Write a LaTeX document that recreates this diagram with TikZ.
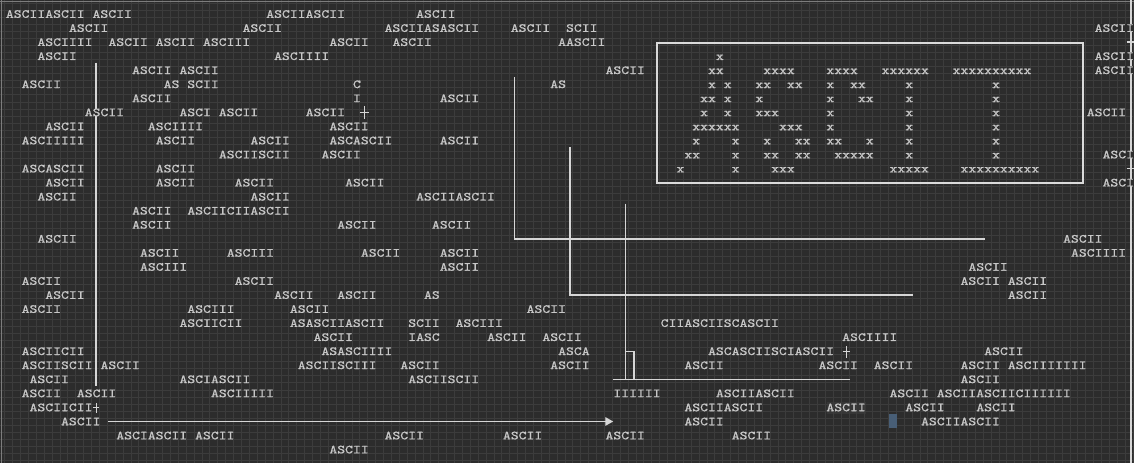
\documentclass[tikz,border=0pt]{standalone}
\usepackage{fontspec}
\newfontfamily\asciifont{lmmono10-regular.otf}[FakeStretch=1.22, FakeBold=0.9]
\usetikzlibrary{arrows.meta}

\definecolor{bg}{RGB}{44,44,44}
\definecolor{gridc}{RGB}{60,60,60}
\definecolor{ink}{RGB}{200,200,200}
\definecolor{wirec}{RGB}{214,214,214}
\definecolor{framec}{RGB}{125,125,125}
\definecolor{cursorc}{RGB}{72,94,118}
\definecolor{hilite}{RGB}{54,54,54}

\tikzset{
  txt/.style={anchor=west, inner sep=0pt, text height=4.3pt, text depth=0pt,
    text=ink, font=\asciifont\fontsize{7}{7}\selectfont},
  masked/.style={txt, fill=bg},
  wire/.style={draw=wirec, line width=0.8pt},
}

\begin{document}
\begin{tikzpicture}[x=0.1578cm, y=-0.281cm]
  \useasboundingbox (-0.697,0) rectangle (143.03,32.95);
  \fill[bg] (-0.697,0) rectangle (143.03,32.95);
  \fill[hilite] (104.08,28.6) rectangle (109.06,29.47);

  % Grid
  \foreach \k in {0,...,143}
    \draw[gridc, line width=0.4pt] (\k-0.1,0) -- (\k-0.1,32.95);
  \foreach \k in {0,...,65}
    \draw[gridc, line width=0.4pt] (-0.697,\k*0.5+0.25) -- (143.03,\k*0.5+0.25);
  \draw[framec, line width=1pt] (-0.697,0.107) -- (143.03,0.107);
  \draw[framec, line width=1pt] (-0.507,0) -- (-0.507,32.95);

  % Cursor
  \fill[cursorc] (112.01,29.47) rectangle (113.03,30.46);

  % Lines
  \coordinate (L1) at (11.47,4.45);
  \coordinate (L2) at (11.47,27.5);
  \draw[wire] (L1) -- (L2);
  \coordinate (M1) at (64.49,5.5);
  \coordinate (M2) at (64.49,17);
  \coordinate (M3) at (124.14,17);
  \draw[wire] (M1) -- (M2) -- (M3);
  \coordinate (N1) at (71.54,10.45);
  \coordinate (N2) at (71.54,21);
  \coordinate (N3) at (115.06,21);
  \draw[wire] (N1) -- (N2) -- (N3);
  \coordinate (P1) at (78.56,14.5);
  \coordinate (P2) at (78.56,27);
  \coordinate (P3) at (77.03,27);
  \coordinate (P4) at (107.03,27);
  \coordinate (P5) at (78.56,25);
  \coordinate (P6) at (79.66,25);
  \coordinate (P7) at (79.66,27);
  \draw[wire] (P1) -- (P2);
  \draw[wire] (P3) -- (P4);
  \draw[wire] (P5) -- (P6) -- (P7);
  \coordinate (R1) at (142.64,0);
  \coordinate (R2) at (142.64,32.95);
  \draw[wire] (R1) -- (R2);
  \draw[wire, line width=1pt, draw=wirec!90] (82.53,3.08) rectangle (136.6,13.0);

  % Junctions
  \draw[wire] (44.93,8) -- (46.1,8) (45.5,7.54) -- (45.5,8.47);
  \draw[wire] (106.1,25) -- (107.03,25) (106.6,24.63) -- (106.6,25.48);
  \draw[wire] (11.13,29) -- (11.9,29) (11.53,28.68) -- (11.53,29.4);
  \draw[wire] (142.1,3) -- (143.1,3) (142.64,2.6) -- (142.64,3.45);
  \draw[wire] (142.1,12) -- (143.1,12) (142.64,11.6) -- (142.64,12.45);

  % Text
  \node[txt] (r1a) at (0,1) {ASCIIASCII ASCII};
  \node[txt] (r1b) at (33,1) {ASCIIASCII};
  \node[txt] (r1c) at (52,1) {ASCII};
  \node[txt] (r2a) at (8,2) {ASCII};
  \node[txt] (r2b) at (30,2) {ASCII};
  \node[txt] (r2c) at (48,2) {ASCIIASASCII};
  \node[txt] (r2d) at (64,2) {ASCII};
  \node[txt] (r2e) at (71,2) {SCII};
  \node[masked] (r2f) at (138,2) {ASCII};
  \node[txt] (r3a) at (4,3) {ASCIIII};
  \node[txt] (r3b) at (13,3) {ASCII ASCII ASCIII};
  \node[txt] (r3c) at (41,3) {ASCII};
  \node[txt] (r3d) at (49,3) {ASCII};
  \node[txt] (r3e) at (70,3) {AASCII};
  \node[txt] (r4a) at (4,4) {ASCII};
  \node[txt] (r4b) at (34,4) {ASCIIII};
  \node[masked] (r4c) at (138,4) {ASCII};
  \node[txt] (r5a) at (16,5) {ASCII ASCII};
  \node[txt] (r5b) at (76,5) {ASCII};
  \node[masked] (r5c) at (138,5) {ASCII};
  \node[txt] (r6a) at (2,6) {ASCII};
  \node[txt] (r6b) at (20,6) {AS SCII};
  \node[txt] (r6c) at (44,6) {C};
  \node[txt] (r6d) at (69,6) {AS};
  \node[txt] (r7a) at (16,7) {ASCII};
  \node[txt] (r7b) at (44,7) {I};
  \node[txt] (r7c) at (55,7) {ASCII};
  \node[masked] (r8a) at (10,8) {ASCII};
  \node[txt] (r8b) at (22,8) {ASCI ASCII};
  \node[txt] (r8c) at (38,8) {ASCII};
  \node[txt] (r8d) at (137,8) {ASCII};
  \node[txt] (r9a) at (5,9) {ASCII};
  \node[txt] (r9b) at (18,9) {ASCIIII};
  \node[txt] (r9c) at (41,9) {ASCII};
  \node[txt] (r10a) at (2,10) {ASCIIIII};
  \node[txt] (r10b) at (19,10) {ASCII};
  \node[txt] (r10c) at (31,10) {ASCII};
  \node[txt] (r10d) at (41,10) {ASCASCII};
  \node[txt] (r10e) at (55,10) {ASCII};
  \node[txt] (r11a) at (27,11) {ASCIISCII};
  \node[txt] (r11b) at (40,11) {ASCII};
  \node[masked] (r11c) at (139,11) {ASCI};
  \node[txt] (r12a) at (2,12) {ASCASCII};
  \node[txt] (r12b) at (19,12) {ASCII};
  \node[txt] (r13a) at (5,13) {ASCII};
  \node[txt] (r13b) at (19,13) {ASCII};
  \node[txt] (r13c) at (29,13) {ASCII};
  \node[txt] (r13d) at (43,13) {ASCII};
  \node[masked] (r13e) at (139,13) {ASCI};
  \node[txt] (r14a) at (4,14) {ASCII};
  \node[txt] (r14b) at (31,14) {ASCII};
  \node[txt] (r14c) at (52,14) {ASCIIASCII};
  \node[txt] (r15a) at (16,15) {ASCII};
  \node[txt] (r15b) at (23,15) {ASCIICIIASCII};
  \node[txt] (r16a) at (16,16) {ASCII};
  \node[txt] (r16b) at (42,16) {ASCII};
  \node[txt] (r16c) at (54,16) {ASCII};
  \node[txt] (r17a) at (4,17) {ASCII};
  \node[txt] (r17b) at (134,17) {ASCII};
  \node[txt] (r18a) at (17,18) {ASCII};
  \node[txt] (r18b) at (28,18) {ASCIII};
  \node[txt] (r18c) at (45,18) {ASCII};
  \node[txt] (r18d) at (55,18) {ASCII};
  \node[txt] (r18e) at (135,18) {ASCIIII};
  \node[txt] (r19a) at (17,19) {ASCIII};
  \node[txt] (r19b) at (55,19) {ASCII};
  \node[txt] (r19c) at (122,19) {ASCII};
  \node[txt] (r20a) at (2,20) {ASCII};
  \node[txt] (r20b) at (29,20) {ASCII};
  \node[txt] (r20c) at (121,20) {ASCII ASCII};
  \node[txt] (r21a) at (5,21) {ASCII};
  \node[txt] (r21b) at (34,21) {ASCII};
  \node[txt] (r21c) at (42,21) {ASCII};
  \node[txt] (r21d) at (53,21) {AS};
  \node[txt] (r21e) at (127,21) {ASCII};
  \node[txt] (r22a) at (2,22) {ASCII};
  \node[txt] (r22b) at (23,22) {ASCIII};
  \node[txt] (r22c) at (36,22) {ASCII};
  \node[txt] (r22d) at (66,22) {ASCII};
  \node[txt] (r23a) at (22,23) {ASCIICII};
  \node[txt] (r23b) at (36,23) {ASASCIIASCII};
  \node[txt] (r23c) at (51,23) {SCII};
  \node[txt] (r23d) at (57,23) {ASCIII};
  \node[txt] (r23e) at (83,23) {CIIASCIISCASCII};
  \node[txt] (r24a) at (39,24) {ASCII};
  \node[txt] (r24b) at (51,24) {IASC};
  \node[txt] (r24c) at (61,24) {ASCII};
  \node[txt] (r24d) at (68,24) {ASCII};
  \node[txt] (r24e) at (106,24) {ASCIIII};
  \node[txt] (r25a) at (2,25) {ASCIICII};
  \node[txt] (r25b) at (40,25) {ASASCIIII};
  \node[txt] (r25c) at (70,25) {ASCA};
  \node[txt] (r25d) at (89,25) {ASCASCIISCIASCII};
  \node[txt] (r25e) at (124,25) {ASCII};
  \node[txt] (r26a) at (2,26) {ASCIISCII};
  \node[txt] (r26b) at (12,26) {ASCII};
  \node[txt] (r26c) at (37,26) {ASCIISCIII};
  \node[txt] (r26d) at (50,26) {ASCII};
  \node[txt] (r26e) at (69,26) {ASCII};
  \node[txt] (r26f) at (86,26) {ASCII};
  \node[txt] (r26g) at (103,26) {ASCII};
  \node[txt] (r26h) at (110,26) {ASCII};
  \node[txt] (r26i) at (121,26) {ASCII ASCIIIIIII};
  \node[txt] (r27a) at (3,27) {ASCII};
  \node[txt] (r27b) at (22,27) {ASCIASCII};
  \node[txt] (r27c) at (51,27) {ASCIISCII};
  \node[txt] (r27d) at (121,27) {ASCII};
  \node[txt] (r28a) at (2,28) {ASCII};
  \node[txt] (r28b) at (9,28) {ASCII};
  \node[txt] (r28c) at (26,28) {ASCIIIII};
  \node[txt] (r28d) at (77,28) {IIIIII};
  \node[txt] (r28e) at (90,28) {ASCIIASCII};
  \node[txt] (r28f) at (112,28) {ASCII ASCIIASCIICIIIIII};
  \node[txt] (r29a) at (3,29) {ASCIICII};
  \node[txt] (r29b) at (86,29) {ASCIIASCII};
  \node[txt] (r29c) at (104,29) {ASCII};
  \node[txt] (r29d) at (114,29) {ASCII};
  \node[txt] (r29e) at (123,29) {ASCII};
  \node[txt] (r30a) at (7,30) {ASCII};
  \node[txt] (r30b) at (86,30) {ASCII};
  \node[txt] (r30c) at (116,30) {ASCIIASCII};
  \node[txt] (r31a) at (14,31) {ASCIASCII ASCII};
  \node[txt] (r31b) at (48,31) {ASCII};
  \node[txt] (r31c) at (63,31) {ASCII};
  \node[txt] (r31d) at (76,31) {ASCII};
  \node[txt] (r31e) at (92,31) {ASCII};
  \node[txt] (r32a) at (41,32) {ASCII};

  % Arrow
  \coordinate (tip) at (77.03,30);
  \draw[wire, -{Triangle[length=1.6mm, width=1.7mm]}] (r30a.east) ++(0.9,0) -- (tip);

  % Letters in the box
  \node[txt] (x4a) at (90,4) {x};
  \node[txt] (x5a) at (89,5) {xx};
  \node[txt] (x5b) at (96,5) {xxxx};
  \node[txt] (x5c) at (104,5) {xxxx};
  \node[txt] (x5d) at (111,5) {xxxxxx};
  \node[txt] (x5e) at (120,5) {xxxxxxxxxx};
  \node[txt] (x6a) at (89,6) {x x};
  \node[txt] (x6b) at (95,6) {xx};
  \node[txt] (x6c) at (99,6) {xx};
  \node[txt] (x6d) at (104,6) {x};
  \node[txt] (x6e) at (107,6) {xx};
  \node[txt] (x6f) at (114,6) {x};
  \node[txt] (x6g) at (125,6) {x};
  \node[txt] (x7a) at (88,7) {xx x};
  \node[txt] (x7b) at (95,7) {x};
  \node[txt] (x7c) at (104,7) {x};
  \node[txt] (x7d) at (108,7) {xx};
  \node[txt] (x7e) at (114,7) {x};
  \node[txt] (x7f) at (125,7) {x};
  \node[txt] (x8a) at (88,8) {x};
  \node[txt] (x8b) at (91,8) {x};
  \node[txt] (x8c) at (95,8) {xxx};
  \node[txt] (x8d) at (104,8) {x};
  \node[txt] (x8e) at (114,8) {x};
  \node[txt] (x8f) at (125,8) {x};
  \node[txt] (x9a) at (87,9) {xxxxxx};
  \node[txt] (x9b) at (98,9) {xxx};
  \node[txt] (x9c) at (104,9) {x};
  \node[txt] (x9d) at (114,9) {x};
  \node[txt] (x9e) at (125,9) {x};
  \node[txt] (x10a) at (87,10) {x};
  \node[txt] (x10b) at (92,10) {x};
  \node[txt] (x10c) at (96,10) {x};
  \node[txt] (x10d) at (100,10) {xx};
  \node[txt] (x10e) at (104,10) {xx};
  \node[txt] (x10f) at (109,10) {x};
  \node[txt] (x10g) at (114,10) {x};
  \node[txt] (x10h) at (125,10) {x};
  \node[txt] (x11a) at (86,11) {xx};
  \node[txt] (x11b) at (92,11) {x};
  \node[txt] (x11c) at (96,11) {xx};
  \node[txt] (x11d) at (100,11) {xx};
  \node[txt] (x11e) at (105,11) {xxxxx};
  \node[txt] (x11f) at (114,11) {x};
  \node[txt] (x11g) at (125,11) {x};
  \node[txt] (x12a) at (85,12) {x};
  \node[txt] (x12b) at (92,12) {x};
  \node[txt] (x12c) at (97,12) {xxx};
  \node[txt] (x12d) at (112,12) {xxxxx};
  \node[txt] (x12e) at (121,12) {xxxxxxxxxx};
\end{tikzpicture}
\end{document}
